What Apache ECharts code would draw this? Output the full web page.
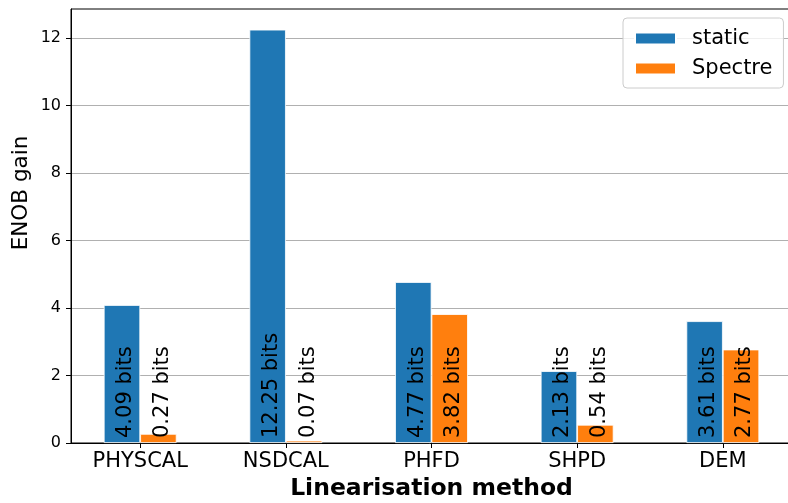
<!DOCTYPE html>
<html>
<head>
<meta charset="utf-8">
<script src="https://cdn.jsdelivr.net/npm/echarts@6/dist/echarts.min.js"></script>
<style>html,body{margin:0;padding:0;background:#fff;}#c{width:788px;height:503px;}</style>
</head>
<body>
<div id="c"></div>
<script>
const categories = ['PHYSCAL', 'NSDCAL', 'PHFD', 'SHPD', 'DEM'];
const staticGain = [4.09, 12.25, 4.77, 2.13, 3.61];
const spectreGain = [0.27, 0.07, 3.82, 0.54, 2.77];
const yTicks = [0, 2, 4, 6, 8, 10, 12];

const FONT = 'DejaVu Sans';
const chart = echarts.init(document.getElementById('c'), null, {renderer: 'canvas'});
const pos = categories.map((c, i) => i);
const lbl = {
  show: true, position: 'insideBottom', rotate: 90, distance: 5,
  align: 'left', verticalAlign: 'middle', offset: [0, 4],
  fontFamily: FONT, fontSize: 21, color: '#000',
  formatter: p => p.value[1].toFixed(2) + ' bits'
};
chart.setOption({
  animation: false,
  backgroundColor: '#fff',
  grid: {left: 71, right: -4, top: 9, bottom: 60, outerBoundsMode: 'none', containLabel: false,
         show: true, borderColor: '#000', borderWidth: 1, backgroundColor: 'transparent'},
  legend: {
    orient: 'vertical', left: 623, top: 18,
    data: ['static', 'Spectre'],
    icon: 'rect', itemWidth: 41, itemHeight: 12, itemGap: 9,
    padding: [10, 11, 9, 11],
    backgroundColor: 'rgba(255,255,255,0.8)', borderColor: '#cccccc', borderWidth: 1, borderRadius: 4,
    textStyle: {fontFamily: FONT, fontSize: 21, color: '#000', lineHeight: 21, padding: [0, 0, 0, 11]}
  },
  xAxis: {
    type: 'value', min: -0.475, max: 4.475,
    splitLine: {show: false},
    axisLine: {show: true, onZero: false, lineStyle: {color: '#000', width: 1}},
    axisTick: {show: true, customValues: pos, length: 5, lineStyle: {color: '#000'}},
    axisLabel: {customValues: pos, formatter: v => categories[Math.round(v)], fontFamily: FONT, fontSize: 21, color: '#000', margin: 8},
    name: 'Linearisation method', nameLocation: 'middle', nameGap: 34,
    nameTextStyle: {fontFamily: FONT, fontSize: 23.5, fontWeight: 'bold', color: '#000'}
  },
  yAxis: {
    type: 'value', min: 0, max: 12.8625, interval: 2,
    axisLine: {show: true, onZero: false, lineStyle: {color: '#000', width: 1}},
    axisTick: {show: true, customValues: yTicks, length: 5, lineStyle: {color: '#000'}},
    axisLabel: {customValues: yTicks, fontFamily: FONT, fontSize: 16, color: '#000', margin: 10},
    splitLine: {show: true, lineStyle: {color: '#b0b0b0', width: 1}}
  },
  graphic: [{
    type: 'text', x: 21, y: 193, rotation: Math.PI / 2,
    style: {text: 'ENOB gain', font: '21.5px "DejaVu Sans"', fill: '#000', textAlign: 'center', textVerticalAlign: 'middle'}
  }],
  series: [
    {name: 'static', type: 'bar', barWidth: '25%', barGap: '0%',
     data: staticGain.map((v, i) => [pos[i], v]),
     itemStyle: {color: '#1f77b4', borderColor: '#fff', borderWidth: 0.8},
     label: lbl},
    {name: 'Spectre', type: 'bar', barWidth: '25%', barGap: '0%',
     data: spectreGain.map((v, i) => [pos[i], v]),
     itemStyle: {color: '#ff7f0e', borderColor: '#fff', borderWidth: 0.8},
     label: lbl}
  ]
});
</script>
</body>
</html>
